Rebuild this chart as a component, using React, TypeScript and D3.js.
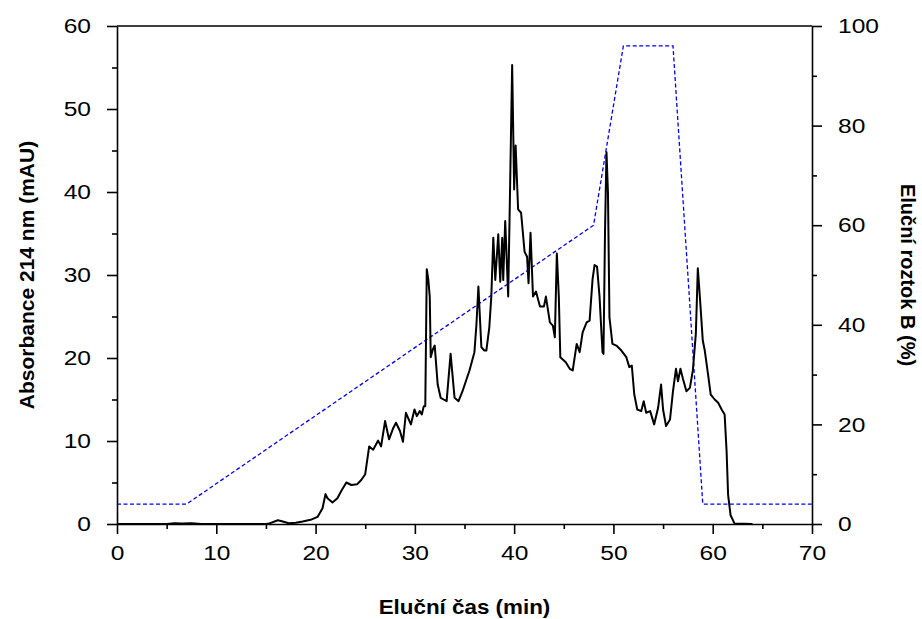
import React, { useEffect, useRef } from "react";
import * as d3 from "d3";

// elution time (min) and absorbance at 214 nm (mAU)
const times = [
  0, 5, 5.8, 6.5, 7.5, 8.5, 15, 15.3, 16.2, 16.7, 17.3, 18.0, 18.7, 19.5, 20.2,
  20.7, 21.0, 21.2, 21.7, 22.2, 22.6, 23.1, 23.6, 24.2, 24.6, 25.0, 25.4, 25.8,
  26.3, 26.6, 27.0, 27.4, 27.8, 28.1, 28.5, 28.8, 29.1, 29.6, 29.96, 30.2, 30.5,
  30.7, 30.9, 31.05, 31.2, 31.35, 31.5, 31.6, 31.8, 32.0, 32.3, 32.6, 32.9, 33.2,
  33.6, 34.0, 34.4, 34.8, 35.5, 36.0, 36.2, 36.4, 36.7, 37.0, 37.2, 37.5, 37.7,
  37.9, 38.1, 38.4, 38.6, 38.8, 38.9, 39.1, 39.4, 39.6, 39.8, 40.0, 40.15, 40.4,
  40.7, 41.05, 41.3, 41.45, 41.65, 41.9, 42.2, 42.6, 43.0, 43.2, 43.6, 43.9,
  44.1, 44.3, 44.5, 44.65, 45.2, 45.6, 45.9, 46.3, 46.6, 46.9, 47.3, 47.6, 47.9,
  48.1, 48.35, 48.6, 48.9, 49.0, 49.15, 49.3, 49.45, 49.6, 49.9, 50.3, 50.8,
  51.3, 51.6, 51.85, 52.1, 52.4, 52.8, 53.05, 53.3, 53.7, 54.1, 54.5, 54.8, 55.0,
  55.3, 55.7, 56.0, 56.3, 56.5, 56.75, 57.0, 57.35, 57.7, 58.0, 58.3, 58.5,
  58.75, 59.0, 59.2, 59.5, 59.8, 60.2, 60.55, 60.9, 61.2, 61.4, 61.55, 61.8,
  62.2, 64.0,
];
const absorbance = [
  0, 0, 0.1, 0.05, 0.1, 0, 0, 0.05, 0.45, 0.3, 0.1, 0.15, 0.3, 0.5, 0.85, 1.9,
  3.6, 3.1, 2.6, 3.1, 4.0, 5.0, 4.7, 4.8, 5.3, 6.0, 9.35, 8.95, 10.05, 9.35,
  12.4, 10.2, 11.5, 12.2, 11.2, 9.9, 13.4, 12.0, 13.8, 13.0, 13.6, 13.2, 14.2,
  14.2, 30.7, 29.5, 27.4, 20.1, 21.0, 21.5, 16.8, 15.2, 15.0, 14.8, 20.5, 15.2,
  14.8, 16.0, 18.5, 20.7, 24, 28.6, 21.3, 20.9, 20.9, 23.7, 27.4, 34.5, 29.4,
  34.9, 29.2, 34.5, 29.4, 36.5, 27.4, 41.1, 55.3, 40.3, 45.6, 37.9, 37.5, 32.8,
  32.2, 29.0, 35.1, 27.4, 28.0, 26.2, 26.2, 27.4, 24.3, 23.9, 22.5, 32.6, 27.4,
  20.1, 19.5, 18.7, 18.5, 21.7, 20.7, 23.1, 24.3, 24.5, 29.5, 31.2, 31.0, 27.4,
  20.7, 20.5, 35, 44.8, 39.9, 24.9, 21.7, 21.5, 20.9, 20.1, 18.9, 19.1, 15.6,
  13.8, 13.6, 14.8, 13.4, 13.6, 12.0, 14.0, 16.8, 13.8, 11.8, 12.6, 16.0, 18.7,
  17.2, 18.7, 17.5, 16.0, 16.4, 18.5, 22.9, 30.8, 26.6, 22.1, 20.9, 18.3, 15.6,
  15.0, 14.6, 13.8, 13.2, 8.7, 3.5, 1.05, 0.05, 0,
];

// gradient program: solvent B (%)
const gradientTimes = [0, 7, 48, 51, 56, 59, 70];
const gradientB = [4, 4, 60, 96, 96, 4, 4];

const xTicks = [0, 10, 20, 30, 40, 50, 60, 70];
const yLeftTicks = [0, 10, 20, 30, 40, 50, 60];
const yRightTicks = [0, 20, 40, 60, 80, 100];

const W = 922;
const H = 619;
const margin = { top: 26, right: 110, bottom: 95, left: 117 };
const STRETCH = 1.17; // tick labels in the original are a bit wide

const App = () => {
  const svgRef = useRef<SVGSVGElement>(null);

  useEffect(() => {
    const svg = d3.select(svgRef.current);
    svg.selectAll("*").remove();

    const width = W - margin.left - margin.right;
    const height = H - margin.top - margin.bottom;
    const font = "Arial, 'Liberation Sans', sans-serif";

    const x = d3.scaleLinear().domain([0, 70]).range([0, width]);
    const yL = d3.scaleLinear().domain([0, 60]).range([height, 0]);
    const yR = d3.scaleLinear().domain([0, 100]).range([height, 0]);

    const g = svg
      .append("g")
      .attr("transform", `translate(${margin.left},${margin.top})`);

    // gradient (dashed blue)
    const grad = gradientTimes.map((t, i) => [t, gradientB[i]]);
    g.append("path")
      .datum(grad)
      .attr("fill", "none")
      .attr("stroke", "#0000ff")
      .attr("stroke-width", 1.3)
      .attr("stroke-dasharray", "4,2.5")
      .attr(
        "d",
        d3
          .line<number[]>()
          .x((d) => x(d[0]))
          .y((d) => yR(d[1]))
      );

    // chromatogram
    const trace = times.map((t, i) => [t, absorbance[i]]);
    g.append("path")
      .datum(trace)
      .attr("fill", "none")
      .attr("stroke", "#000")
      .attr("stroke-width", 2)
      .attr("stroke-linejoin", "round")
      .attr(
        "d",
        d3
          .line<number[]>()
          .x((d) => x(d[0]))
          .y((d) => yL(d[1]))
      );

    const styleAxis = (sel: any) => {
      sel.select(".domain").attr("stroke", "#000").attr("stroke-width", 1.6);
      sel.selectAll(".tick line").attr("stroke", "#000").attr("stroke-width", 1.6);
      sel
        .selectAll(".tick text")
        .attr("font-family", font)
        .attr("font-size", 21)
        .attr("fill", "#000")
        .each(function (this: SVGTextElement) {
          const t = d3.select(this);
          const tx = +(t.attr("x") || 0);
          t.attr("x", tx / STRETCH).attr("transform", `scale(${STRETCH},1)`);
        });
    };

    const minor = (sel: any) => {
      sel.select(".domain").remove();
      sel.selectAll(".tick text").remove();
      sel.selectAll(".tick line").attr("stroke", "#000").attr("stroke-width", 1.6);
    };

    // minor ticks
    g.append("g")
      .attr("transform", `translate(0,${height})`)
      .call(d3.axisBottom(x).tickValues(d3.range(5, 70, 10)).tickSize(5))
      .call(minor);
    g.append("g")
      .call(d3.axisLeft(yL).tickValues(d3.range(5, 60, 10)).tickSize(5))
      .call(minor);
    g.append("g")
      .attr("transform", `translate(${width},0)`)
      .call(d3.axisRight(yR).tickValues(d3.range(10, 100, 20)).tickSize(5))
      .call(minor);

    // major axes
    g.append("g")
      .attr("transform", `translate(0,${height})`)
      .call(
        d3.axisBottom(x).tickValues(xTicks).tickSize(10).tickPadding(11).tickSizeOuter(0)
      )
      .call(styleAxis);
    g.append("g")
      .call(
        d3.axisLeft(yL).tickValues(yLeftTicks).tickSize(10).tickPadding(16).tickSizeOuter(0)
      )
      .call(styleAxis);
    g.append("g")
      .attr("transform", `translate(${width},0)`)
      .call(
        d3.axisRight(yR).tickValues(yRightTicks).tickSize(10).tickPadding(16).tickSizeOuter(0)
      )
      .call(styleAxis);

    // top frame line
    g.append("line")
      .attr("x1", 0)
      .attr("x2", width)
      .attr("y1", 0)
      .attr("y2", 0)
      .attr("stroke", "#000")
      .attr("stroke-width", 1.6);

    // axis titles
    g.append("text")
      .attr("transform", `translate(${width / 2},${height + 90}) scale(1.12,1)`)
      .attr("text-anchor", "middle")
      .attr("font-family", font)
      .attr("font-weight", "bold")
      .attr("font-size", 20)
      .text("Eluční čas (min)");

    g.append("text")
      .attr("transform", `translate(${-83},${height / 2}) rotate(-90)`)
      .attr("text-anchor", "middle")
      .attr("font-family", font)
      .attr("font-weight", "bold")
      .attr("font-size", 21)
      .text("Absorbance 214 nm (mAU)");

    g.append("text")
      .attr("transform", `translate(${width + 89},${height / 2}) rotate(90)`)
      .attr("text-anchor", "middle")
      .attr("font-family", font)
      .attr("font-weight", "bold")
      .attr("font-size", 20)
      .text("Eluční roztok B (%)");
  }, []);

  return (
    <div style={{ position: "absolute", left: 0, top: 0, background: "#fff" }}>
      <svg ref={svgRef} width={W} height={H}></svg>
    </div>
  );
};

export default App;
